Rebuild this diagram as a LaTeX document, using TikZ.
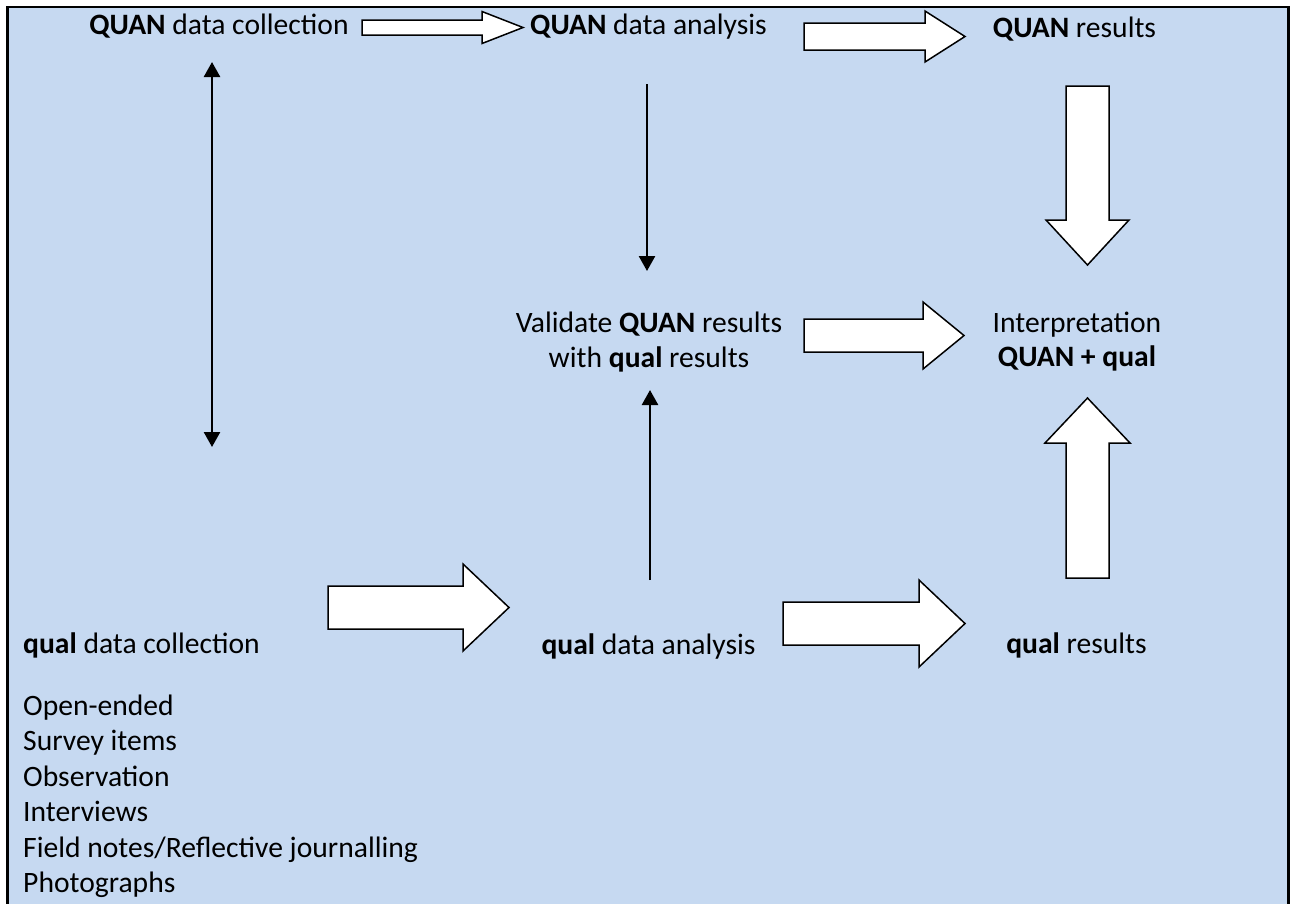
\documentclass[tikz,border=0pt]{standalone}
\usepackage{fontspec}
\setmainfont{Carlito}
\usetikzlibrary{arrows.meta}

\definecolor{panelblue}{RGB}{198,217,241}

\tikzset{
  lbl/.style={inner sep=0pt, anchor=base, font=\fontsize{29.6}{35.5}\selectfont},
  fat/.style={draw=black, fill=white, line width=1.5pt, line join=miter},
  link/.style={line width=2.5pt, >={Triangle[length=15pt,width=16pt]}},
}

\begin{document}
\begin{tikzpicture}[x=1pt, y=-1pt]
  % x from, head base, tip, y, shaft half, head half
  \def\hblock#1#2#3#4#5#6{%
    \draw[fat] (#1,#4-#5) -- (#2,#4-#5) -- (#2,#4-#6) -- (#3,#4)
      -- (#2,#4+#6) -- (#2,#4+#5) -- (#1,#4+#5) -- cycle;}
  % x, y from, head base, tip, shaft half, head half
  \def\vblock#1#2#3#4#5#6{%
    \draw[fat] (#1-#5,#2) -- (#1-#5,#3) -- (#1-#6,#3) -- (#1,#4)
      -- (#1+#6,#3) -- (#1+#5,#3) -- (#1+#5,#2) -- cycle;}

  \useasboundingbox (0,0) rectangle (1293,903);

  % Panel
  \fill[panelblue] (7.5,7) rectangle (1288.5,904);
  \draw[line width=2.5pt] (7.5,904) -- (7.5,7) -- (1288.5,7) -- (1288.5,904);

  % QUAN strand
  \node[lbl] (quanCol) at (219,34.3) {\textbf{QUAN} data collection};
  \node[lbl] (quanAna) at (648.5,34.3) {\textbf{QUAN} data analysis};
  \node[lbl] (quanRes) at (1074.5,37.5) {\textbf{QUAN} results};

  % middle row (base = last line)
  \node[lbl, align=center, font=\fontsize{29.6}{35}\selectfont] (validate) at (649,367)
    {Validate \textbf{QUAN} results\\with \textbf{qual} results};
  \node[lbl, align=center, font=\fontsize{29.6}{34}\selectfont] (interp) at (1077,366)
    {Interpretation\\\textbf{QUAN + qual}};

  % qual strand
  \node[lbl, anchor=base west] (qualCol) at (23,653) {\textbf{qual} data collection};
  \node[lbl] (qualAna) at (648.5,654) {\textbf{qual} data analysis};
  \node[lbl] (qualRes) at (1076.5,653) {\textbf{qual} results};
  \node[lbl, anchor=base west, align=left] (methods) at (23,892.5)
    {Open-ended\\Survey items\\Observation\\Interviews\\Field notes/Reflective journalling\\Photographs};

  % block arrows
  \hblock{362}{482}{523}{27.5}{7.5}{16}
  \hblock{804}{925}{965}{36.5}{13.5}{25.5}
  \hblock{804}{923}{964}{335.5}{16.5}{33.5}
  \hblock{328}{463}{509}{607.5}{21.5}{43.5}
  \hblock{783}{919}{965}{623.5}{21.5}{43.5}
  \vblock{1087.5}{86}{220}{265}{21.5}{41.5}
  \vblock{1087.5}{578}{443}{398}{21.5}{42.5}

  % thin arrows
  \coordinate (colTop) at (212,62);
  \coordinate (colBot) at (212,447);
  \coordinate (anaTop) at (647,84);
  \coordinate (valTop) at (647,271);
  \coordinate (valBot) at (650,390);
  \coordinate (anaBot) at (650,580);
  \draw[link,<->] (colTop) -- (colBot);
  \draw[link,->] (anaTop) -- (valTop);
  \draw[link,->] (anaBot) -- (valBot);
\end{tikzpicture}
\end{document}
